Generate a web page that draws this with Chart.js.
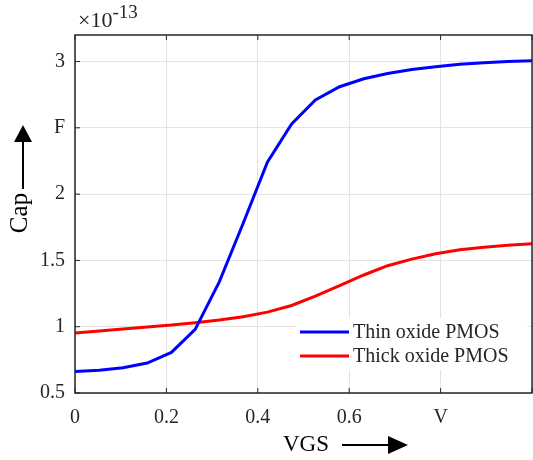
<!DOCTYPE html>
<html lang="en">
<head>
    <meta charset="UTF-8">
    <title>Cap vs VGS</title>
    <script src="https://cdn.jsdelivr.net/npm/chart.js"></script>
    <style>
        body {
            margin: 0;
            background: white;
            overflow: hidden;
        }
        canvas {
            display: block;
        }
    </style>
</head>
<body>
<canvas id="capChart" width="545" height="460"></canvas>

<script>
// VGS sweep (V) and capacitance (x 1e-13 F)
const vgs = [0, 0.053, 0.105, 0.158, 0.211, 0.263, 0.316, 0.368, 0.421, 0.474,
             0.526, 0.579, 0.632, 0.684, 0.737, 0.789, 0.842, 0.895, 0.947, 1.0];
const thinCap = [0.663, 0.672, 0.69, 0.726, 0.806, 0.98, 1.34, 1.78, 2.24, 2.53,
                 2.71, 2.81, 2.87, 2.91, 2.94, 2.96, 2.98, 2.99, 3.0, 3.005];
const thickCap = [0.952, 0.967, 0.982, 0.998, 1.012, 1.03, 1.05, 1.075, 1.11, 1.16,
                  1.23, 1.31, 1.39, 1.46, 1.51, 1.55, 1.58, 1.6, 1.615, 1.625];

const xTicks = [0, 0.2, 0.4, 0.6, 0.8, 1.0];
const xTickLabels = ['0', '0.2', '0.4', '0.6', 'V', ''];
const yTicks = [0.5, 1, 1.5, 2, 2.5, 3];
const yTickLabels = ['0.5', '1', '1.5', '2', 'F', '3'];

const seriesNames = ['Thin oxide PMOS', 'Thick oxide PMOS'];
const seriesColors = ['#0000ff', '#ff0000'];

const serif = "'Liberation Serif', 'Times New Roman', serif";
const ink = '#262626';

function toPoints(ys) {
    return vgs.map((v, i) => ({ x: v, y: ys[i] }));
}

function arrow(ctx, x1, y1, x2, y2, head, halfW) {
    const ang = Math.atan2(y2 - y1, x2 - x1);
    const bx = x2 - head * Math.cos(ang), by = y2 - head * Math.sin(ang);
    ctx.beginPath();
    ctx.moveTo(x1, y1);
    ctx.lineTo(bx, by);
    ctx.stroke();
    ctx.beginPath();
    ctx.moveTo(x2, y2);
    ctx.lineTo(bx + halfW * Math.sin(ang), by - halfW * Math.cos(ang));
    ctx.lineTo(bx - halfW * Math.sin(ang), by + halfW * Math.cos(ang));
    ctx.closePath();
    ctx.fill();
}

// box, inward ticks, exponent, axis labels and legend
const decorations = {
    id: 'decorations',
    afterDatasetsDraw(chart) {
        const ctx = chart.ctx;
        const a = chart.chartArea;
        const xs = chart.scales.x, ys = chart.scales.y;
        ctx.save();

        ctx.strokeStyle = ink;
        ctx.lineWidth = 1.5;
        ctx.strokeRect(a.left, a.top, a.right - a.left, a.bottom - a.top);

        ctx.lineWidth = 1;
        ctx.beginPath();
        xTicks.forEach(t => {
            const px = xs.getPixelForValue(t);
            ctx.moveTo(px, a.bottom); ctx.lineTo(px, a.bottom - 5);
            ctx.moveTo(px, a.top); ctx.lineTo(px, a.top + 5);
        });
        yTicks.forEach(t => {
            const py = ys.getPixelForValue(t);
            ctx.moveTo(a.left, py); ctx.lineTo(a.left + 5, py);
        });
        ctx.stroke();

        // exponent
        ctx.fillStyle = ink;
        ctx.textBaseline = 'alphabetic';
        ctx.textAlign = 'left';
        ctx.font = '22px ' + serif;
        ctx.fillText('\u00d710', 78, 27);
        const w = ctx.measureText('\u00d710').width;
        ctx.font = '19px ' + serif;
        ctx.fillText('-13', 78 + w, 18);

        // y label with arrow
        ctx.fillStyle = 'black';
        ctx.strokeStyle = 'black';
        ctx.font = '25px ' + serif;
        ctx.save();
        ctx.translate(27, 213);
        ctx.rotate(-Math.PI / 2);
        ctx.textAlign = 'center';
        ctx.fillText('Cap', 0, 0);
        ctx.restore();
        ctx.lineWidth = 2;
        arrow(ctx, 23, 189, 23, 125, 17, 9);

        // x label with arrow
        ctx.font = '23px ' + serif;
        ctx.textAlign = 'left';
        ctx.fillText('VGS', 283, 451);
        arrow(ctx, 342, 445, 408, 445, 20, 9);

        // legend
        ctx.fillStyle = 'white';
        ctx.fillRect(297, 318, 230, 52);
        ctx.font = '20px ' + serif;
        ctx.textBaseline = 'middle';
        seriesNames.forEach((name, i) => {
            const y = 332 + i * 24;
            ctx.strokeStyle = seriesColors[i];
            ctx.lineWidth = 3;
            ctx.beginPath();
            ctx.moveTo(300, y); ctx.lineTo(349, y);
            ctx.stroke();
            ctx.fillStyle = ink;
            ctx.fillText(name, 353, y + 1);
        });

        ctx.restore();
    }
};

const ctx = document.getElementById('capChart').getContext('2d');

new Chart(ctx, {
    type: 'line',
    data: {
        datasets: [
            { label: seriesNames[0], data: toPoints(thinCap), borderColor: seriesColors[0],
              borderWidth: 3, pointRadius: 0, fill: false, tension: 0 },
            { label: seriesNames[1], data: toPoints(thickCap), borderColor: seriesColors[1],
              borderWidth: 3, pointRadius: 0, fill: false, tension: 0 }
        ]
    },
    options: {
        responsive: false,
        animation: false,
        layout: { padding: { left: 0, top: 35, right: 7.5, bottom: 0 } },
        plugins: {
            legend: { display: false },
            tooltip: { enabled: false }
        },
        scales: {
            x: {
                type: 'linear',
                min: 0,
                max: 1.0,
                afterBuildTicks: s => { s.ticks = xTicks.map(v => ({ value: v })); },
                afterFit: s => { s.height = 67; },
                border: { display: false },
                grid: { color: '#e3e3e3', lineWidth: 1, drawTicks: false },
                ticks: {
                    padding: 13,
                    color: ink,
                    font: { family: serif, size: 20 },
                    maxRotation: 0,
                    callback: (v, i) => xTickLabels[i]
                }
            },
            y: {
                type: 'linear',
                min: 0.5,
                max: 3.2,
                afterBuildTicks: s => { s.ticks = yTicks.map(v => ({ value: v })); },
                afterFit: s => { s.width = 75; },
                border: { display: false },
                grid: { color: '#e3e3e3', lineWidth: 1, drawTicks: false },
                ticks: {
                    padding: 10,
                    color: ink,
                    font: { family: serif, size: 20 },
                    callback: (v, i) => yTickLabels[i]
                }
            }
        }
    },
    plugins: [decorations]
});
</script>
</body>
</html>
